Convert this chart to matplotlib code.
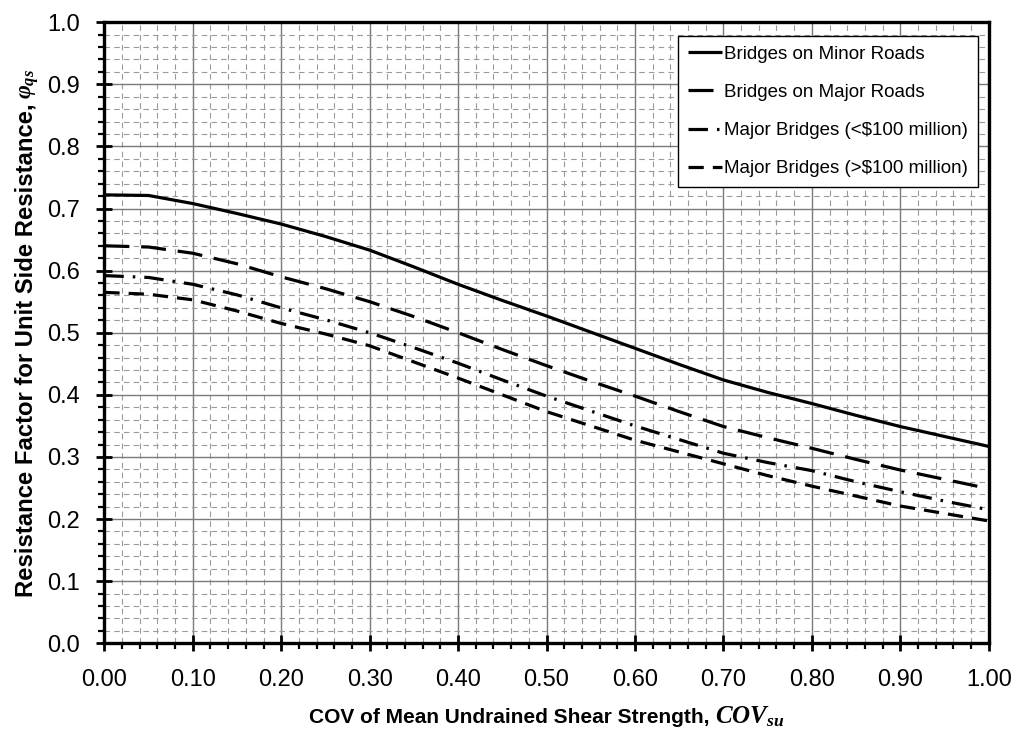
import matplotlib
matplotlib.use("Agg")
import matplotlib.pyplot as plt
from matplotlib.ticker import MultipleLocator, FormatStrFormatter

plt.rcParams['font.family'] = ['Liberation Sans', 'DejaVu Sans']
plt.rcParams['mathtext.fontset'] = 'custom'
plt.rcParams['mathtext.it'] = 'Liberation Serif:italic:bold'
plt.rcParams['mathtext.rm'] = 'Liberation Serif:bold'
plt.rcParams['mathtext.bf'] = 'Liberation Serif:italic:bold'
plt.rcParams['lines.scale_dashes'] = False

cov = [0.00, 0.05, 0.10, 0.15, 0.20, 0.25, 0.30, 0.35, 0.40, 0.45, 0.50,
       0.55, 0.60, 0.65, 0.70, 0.75, 0.80, 0.85, 0.90, 0.95, 1.00]
minor_roads = [0.722, 0.721, 0.708, 0.692, 0.675, 0.655, 0.633, 0.606, 0.578, 0.552, 0.527,
               0.501, 0.475, 0.449, 0.424, 0.404, 0.386, 0.367, 0.349, 0.333, 0.317]
major_roads = [0.640, 0.638, 0.628, 0.611, 0.590, 0.571, 0.550, 0.526, 0.500, 0.473, 0.447,
               0.422, 0.398, 0.373, 0.349, 0.331, 0.314, 0.296, 0.279, 0.264, 0.249]
major_lt100 = [0.592, 0.589, 0.578, 0.561, 0.540, 0.521, 0.500, 0.476, 0.451, 0.424, 0.398,
               0.374, 0.350, 0.328, 0.306, 0.291, 0.278, 0.260, 0.244, 0.229, 0.215]
major_gt100 = [0.565, 0.562, 0.553, 0.535, 0.515, 0.498, 0.479, 0.453, 0.427, 0.400, 0.373,
               0.350, 0.327, 0.308, 0.289, 0.270, 0.253, 0.237, 0.221, 0.209, 0.197]
labels = ["Bridges on Minor Roads", "Bridges on Major Roads",
          "Major Bridges (<\\$100 million)", "Major Bridges (>\\$100 million)"]
xlabel_text = "COV of Mean Undrained Shear Strength,"
xlabel_math = r"$COV_{su}$"
ylabel_text = "Resistance Factor for Unit Side Resistance,"
ylabel_math = r"$\varphi_{qs}$"

W, H = 1013, 740
fig = plt.figure(figsize=(W / 100, H / 100), dpi=100)
ax = fig.add_axes([0.103, 0.1307, 0.873, 0.8393])

lw = 2.3
ax.plot(cov, minor_roads, color='black', lw=lw, solid_capstyle='butt', label=labels[0])
ax.plot(cov, major_roads, color='black', lw=lw, dashes=(18, 8.5), dash_capstyle='butt', label=labels[1])
ax.plot(cov, major_lt100, color='black', lw=lw, dashes=(14, 6.5, 1.8, 6.5), dash_capstyle='butt', label=labels[2])
ax.plot(cov, major_gt100, color='black', lw=lw, dashes=(11, 6.5), dash_capstyle='butt', label=labels[3])

ax.set_xlim(0, 1)
ax.set_ylim(0, 1)
ax.xaxis.set_major_locator(MultipleLocator(0.1))
ax.xaxis.set_minor_locator(MultipleLocator(0.02))
ax.yaxis.set_major_locator(MultipleLocator(0.1))
ax.yaxis.set_minor_locator(MultipleLocator(0.02))
ax.xaxis.set_major_formatter(FormatStrFormatter('%.2f'))
ax.yaxis.set_major_formatter(FormatStrFormatter('%.1f'))

ax.grid(which='major', color='#7a7a7a', lw=1.0, ls='-')
ax.grid(which='minor', color='#9a9a9a', lw=0.8, ls=(0, (4, 3)))
ax.set_axisbelow(True)

for s in ax.spines.values():
    s.set_linewidth(2.4)
    s.set_color('black')

ax.tick_params(axis='both', which='major', direction='inout', length=11.5, width=2.0,
               labelsize=17, colors='black')
ax.tick_params(axis='x', which='major', pad=13)
ax.tick_params(axis='y', which='major', pad=12)
ax.tick_params(axis='both', which='minor', direction='out', length=4.5, width=1.6)

leg = ax.legend(loc='upper right', bbox_to_anchor=(0.9876, 0.978), borderaxespad=0,
                fontsize=13.5, frameon=True, fancybox=False, handlelength=1.8,
                handletextpad=0.1, labelspacing=1.12, borderpad=0.53)
leg.get_frame().set_edgecolor('black')
leg.get_frame().set_linewidth(1.0)
leg.get_frame().set_alpha(1.0)

# axis titles: sans-serif bold text followed by serif italic symbol
fig.canvas.draw()
r = fig.canvas.get_renderer()
axbb = ax.get_window_extent(r)

tx1 = fig.text(0, 0, xlabel_text, fontsize=15, fontweight='bold', va='baseline', ha='left')
tx2 = fig.text(0, 0, xlabel_math, fontsize=18, va='baseline', ha='left')
w1 = tx1.get_window_extent(r).width
w2 = tx2.get_window_extent(r).width
gap = 6
cx = (axbb.x0 + axbb.x1) / 2
x0 = cx - (w1 + gap + w2) / 2
yb = H - 723
tx1.set_position((x0 / W, yb / H))
tx2.set_position(((x0 + w1 + gap) / W, yb / H))

ty1 = fig.text(0, 0, ylabel_text, fontsize=17.2, fontweight='bold', rotation=90,
               rotation_mode='anchor', va='baseline', ha='left')
ty2 = fig.text(0, 0, ylabel_math, fontsize=17, rotation=90,
               rotation_mode='anchor', va='baseline', ha='left')
h1 = ty1.get_window_extent(r).height
h2 = ty2.get_window_extent(r).height
ygap = 4
cy = (axbb.y0 + axbb.y1) / 2
y0 = cy - (h1 + ygap + h2) / 2
xb = 32
ty1.set_position((xb / W, y0 / H))
ty2.set_position((xb / W, (y0 + h1 + ygap) / H))

fig.savefig("out.png", dpi=100)
